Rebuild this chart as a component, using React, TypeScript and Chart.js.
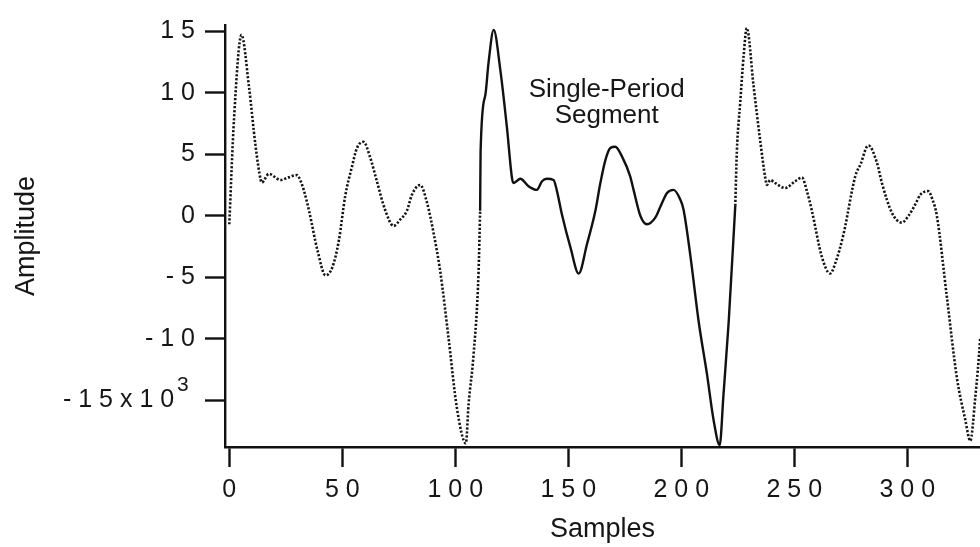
import { useEffect, useRef } from "react";
import { Chart, registerables } from "chart.js";

Chart.register(...registerables);

// ---- data (amplitude in units of 10^3) ----
const leadSamples = [0, 2.1, 5.4, 8.7, 11.6, 13.9, 14.4, 17.5, 22.7, 26, 30, 31.6, 33.1, 35.3, 39, 42.6, 45.6, 48.5, 51.3, 54.3, 56.5, 59.4, 62.4, 65.3, 68.9, 72.7, 75.7, 78.6, 80.8, 84.5, 87.5, 90.4, 93.4, 97, 100.7, 104.7, 105.9, 108.1, 110.3, 111];
const leadAmplitudeK = [-0.7, 7.9, 14.7, 10.5, 5.7, 2.9, 2.7, 3.4, 2.9, 3.1, 3.3, 2.8, 2.0, 0.4, -2.8, -4.85, -4.2, -2.0, 1.6, 4.0, 5.5, 6.0, 4.7, 2.8, 0.5, -0.83, -0.3, 0.4, 1.7, 2.5, 1.05, -1.4, -4.6, -9.9, -15.6, -18.5, -15.3, -11.3, -4.6, 0.4];

const segmentSamples = [111, 111.2, 113.3, 114.7, 117, 119.9, 122.9, 125.1, 125.8, 128.8, 132.4, 136.1, 138.4, 140.5, 143.5, 145, 147.2, 151, 154.6, 158.3, 162, 164.2, 166.4, 168.6, 170.8, 173.8, 177.4, 178.9, 181.9, 184.8, 188.5, 190.7, 193.7, 196.6, 199.6, 201, 204, 207.7, 211.4, 214.3, 217, 218.7, 221, 223.9];
const segmentAmplitudeK = [0.4, 5.2, 9.8, 12.4, 15.1, 11.9, 7.1, 3.05, 2.65, 3.0, 2.4, 2.1, 2.8, 3.0, 2.9, 2.0, 0.1, -2.6, -4.7, -2.3, 0.4, 2.65, 4.5, 5.5, 5.6, 4.8, 3.2, 2.1, 0.0, -0.7, -0.16, 0.7, 1.85, 2.1, 1.3, 0.5, -3.2, -8.6, -12.9, -16.6, -18.65, -14.5, -8.6, 0.8];

const trailSamples = [223.9, 224.6, 226.1, 227.6, 229, 232, 235, 237.2, 237.9, 239.4, 241.6, 246, 250.4, 253.4, 255.6, 257.8, 262.3, 265.9, 268.1, 271.8, 277, 279.6, 281.8, 282.9, 286.6, 288.8, 293.2, 297.6, 300.6, 303.5, 305.8, 309.2, 311.2, 313.1, 317.6, 322, 325.7, 327.9, 330.1, 332.3, 334];
const trailAmplitudeK = [0.8, 5.2, 9.2, 13.0, 15.25, 10.55, 6.0, 3.05, 2.5, 2.9, 2.65, 2.25, 2.8, 3.1, 2.0, 0.4, -3.4, -4.7, -3.9, -1.5, 3.2, 4.3, 5.5, 5.7, 4.3, 2.65, 0.24, -0.56, 0.0, 0.9, 1.7, 2.0, 1.3, 0.0, -6.7, -13.2, -16.6, -18.3, -14.8, -9.9, -4.0];

const xTickValues = [0, 50, 100, 150, 200, 250, 300];
const xTickLabels = ["0", "5 0", "1 0 0", "1 5 0", "2 0 0", "2 5 0", "3 0 0"];
const yTickValues = [15, 10, 5, 0, -5, -10, -15];
const yTickLabels = ["1 5", "1 0", "5", "0", "- 5", "- 1 0", "- 1 5 x 1 0   "];
const yExponent = "3";

const noteLines = ["Single-Period", "Segment"];
const noteSample = 167;
const noteAmplitudeK = [9.65, 7.5];

const xTitle = "Samples";
const yTitle = "Amplitude";

const FONT = "'Liberation Sans', Arial, Helvetica, sans-serif";
const INK = "#161616";

const toPoints = (xs: number[], ys: number[]) => xs.map((x, i) => ({ x, y: ys[i] }));

const extrasPlugin = {
  id: "extras",
  afterDraw(chart: any) {
    const { ctx, scales, chartArea } = chart;
    const xs = scales.x;
    const ys = scales.y;
    ctx.save();
    ctx.fillStyle = INK;
    ctx.font = `26px ${FONT}`;
    ctx.textAlign = "center";
    ctx.textBaseline = "alphabetic";
    noteLines.forEach((line, i) => {
      ctx.fillText(line, xs.getPixelForValue(noteSample), ys.getPixelForValue(noteAmplitudeK[i]));
    });
    ctx.font = `21px ${FONT}`;
    ctx.textAlign = "left";
    ctx.fillText(yExponent, chartArea.left - 48, ys.getPixelForValue(yTickValues[6]) - 9);
    ctx.restore();
  },
};

export default function App() {
  const ref = useRef<HTMLCanvasElement | null>(null);

  useEffect(() => {
    if (!ref.current) return;
    const dotted = [
      ...toPoints(leadSamples, leadAmplitudeK),
      { x: 167, y: null as any },
      ...toPoints(trailSamples, trailAmplitudeK),
    ];
    const solid = toPoints(segmentSamples, segmentAmplitudeK);

    const chart = new Chart(ref.current, {
      type: "line",
      data: {
        datasets: [
          {
            label: "Periodic extension",
            data: dotted,
            borderColor: "#151515",
            borderWidth: 2.6,
            borderDash: [2.2, 1.8],
            pointRadius: 0,
            cubicInterpolationMode: "monotone",
            spanGaps: false,
            fill: false,
          },
          {
            label: "Single-Period Segment",
            data: solid,
            borderColor: "#111",
            borderWidth: 2.4,
            pointRadius: 0,
            cubicInterpolationMode: "monotone",
            fill: false,
          },
        ],
      },
      options: {
        animation: false,
        responsive: false,
        devicePixelRatio: 1,
        layout: { padding: { top: 20, right: 0, bottom: 0, left: 0 } },
        plugins: { legend: { display: false }, tooltip: { enabled: false } },
        scales: {
          x: {
            type: "linear",
            min: -1.9,
            max: 332.2,
            afterBuildTicks: (s: any) => {
              s.ticks = xTickValues.map((v) => ({ value: v }));
            },
            afterFit: (s: any) => {
              s.height = 100;
            },
            ticks: {
              autoSkip: false,
              maxRotation: 0,
              padding: 8,
              color: INK,
              font: { family: FONT, size: 25 },
              callback: (_v: any, i: number) => xTickLabels[i],
            },
            grid: {
              drawOnChartArea: false,
              drawTicks: true,
              tickLength: 20,
              tickWidth: 2.4,
              tickColor: "#111",
              color: "#111",
            },
            border: { display: true, width: 2.4, color: "#111" },
            title: {
              display: true,
              text: xTitle,
              color: INK,
              font: { family: FONT, size: 27 },
              padding: { top: 0, bottom: 1 },
            },
          },
          y: {
            type: "linear",
            min: -18.8,
            max: 15.5,
            afterBuildTicks: (s: any) => {
              s.ticks = yTickValues.map((v) => ({ value: v }));
            },
            afterFit: (s: any) => {
              s.width = 225;
            },
            ticks: {
              autoSkip: false,
              padding: 10,
              color: INK,
              font: { family: FONT, size: 25 },
              callback: (_v: any, i: number) => yTickLabels[i],
            },
            grid: {
              drawOnChartArea: false,
              drawTicks: true,
              tickLength: 20,
              tickWidth: 2.4,
              tickColor: "#111",
              color: "#111",
            },
            border: { display: true, width: 2.4, color: "#111" },
            title: {
              display: true,
              text: yTitle,
              color: INK,
              font: { family: FONT, size: 27 },
              padding: { top: 10, bottom: 0 },
            },
          },
        },
      },
      plugins: [extrasPlugin],
    });
    return () => chart.destroy();
  }, []);

  return (
    <div style={{ position: "fixed", left: 0, top: 0, width: 980, height: 547, background: "#fff" }}>
      <canvas ref={ref} width={980} height={547} style={{ display: "block" }} />
    </div>
  );
}
